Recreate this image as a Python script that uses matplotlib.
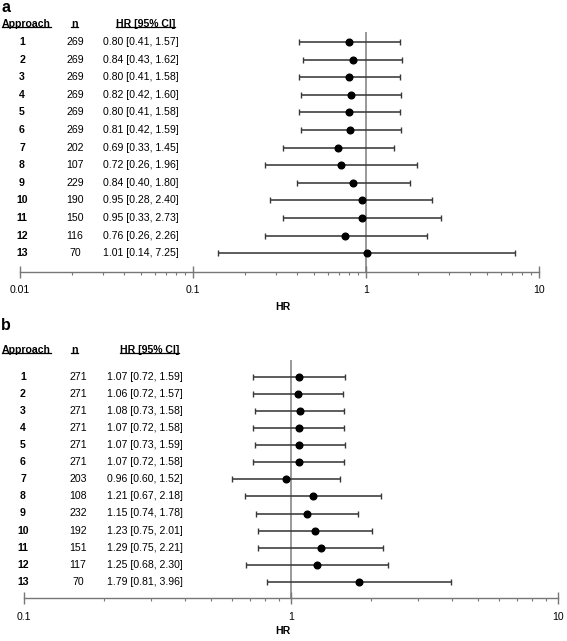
import math
import matplotlib
matplotlib.use("Agg")
import matplotlib.pyplot as plt
from matplotlib.lines import Line2D
from matplotlib.ticker import LogLocator, FixedLocator, NullFormatter

plt.rcParams['font.family'] = ['Liberation Sans', 'DejaVu Sans']

approach = list(range(1, 14))

n_a = [269, 269, 269, 269, 269, 269, 202, 107, 229, 190, 150, 116, 70]
hr_a = [0.80, 0.84, 0.80, 0.82, 0.80, 0.81, 0.69, 0.72, 0.84, 0.95, 0.95, 0.76, 1.01]
lo_a = [0.41, 0.43, 0.41, 0.42, 0.41, 0.42, 0.33, 0.26, 0.40, 0.28, 0.33, 0.26, 0.14]
hi_a = [1.57, 1.62, 1.58, 1.60, 1.58, 1.59, 1.45, 1.96, 1.80, 2.40, 2.73, 2.26, 7.25]
ticks_a = [0.01, 0.1, 1, 10]
ticklabels_a = ["0.01", "0.1", "1", "10"]

n_b = [271, 271, 271, 271, 271, 271, 203, 108, 232, 192, 151, 117, 70]
hr_b = [1.07, 1.06, 1.08, 1.07, 1.07, 1.07, 0.96, 1.21, 1.15, 1.23, 1.29, 1.25, 1.79]
lo_b = [0.72, 0.72, 0.73, 0.72, 0.73, 0.72, 0.60, 0.67, 0.74, 0.75, 0.75, 0.68, 0.81]
hi_b = [1.59, 1.57, 1.58, 1.58, 1.59, 1.58, 1.52, 2.18, 1.78, 2.01, 2.21, 2.30, 3.96]
ticks_b = [0.1, 1, 10]
ticklabels_b = ["0.1", "1", "10"]

W, H = 567, 641
fig = plt.figure(figsize=(W / 100, H / 100), dpi=100)

FS = 7.6
underlined = []


def T(x, y, s, **kw):
    kw.setdefault('fontsize', FS)
    kw.setdefault('va', 'center')
    return fig.text(x / W, 1 - y / H, s, **kw)


def panel(label, n, hr, lo, hi, ticks, tlabels, ax_left, ax_right, ax_top, ax_bot,
          row1_y, row_dy, lab_y, head_y, num_x, n_x, hr_x, tick_y, hrlab_y):
    ax = fig.add_axes([ax_left / W, 1 - ax_bot / H, (ax_right - ax_left) / W, (ax_bot - ax_top) / H])
    ax.set_xscale('log')
    ax.set_xlim(ticks[0], ticks[-1])
    ybot = 1 + (ax_bot - row1_y) / row_dy
    ytop = 1 + (ax_top - row1_y) / row_dy
    ax.set_ylim(ybot, ytop)
    ax.patch.set_alpha(0)
    for s in ['top', 'left', 'right']:
        ax.spines[s].set_visible(False)
    ax.spines['bottom'].set_color('#777777')
    ax.spines['bottom'].set_linewidth(1.0)
    ax.set_yticks([])
    ax.xaxis.set_major_locator(FixedLocator(ticks))
    ax.set_xticklabels([])
    ax.xaxis.set_minor_locator(LogLocator(base=10, subs=range(2, 10)))
    ax.xaxis.set_minor_formatter(NullFormatter())
    ax.tick_params(axis='x', which='major', direction='inout', length=8, width=1, color='#777777')
    ax.tick_params(axis='x', which='minor', direction='out', length=2.5, width=0.8, color='#777777')
    ax.axvline(1, color='#888888', lw=1.2, zorder=1)
    for i in range(len(hr)):
        y = approach[i]
        ax.errorbar(hr[i], y, xerr=[[hr[i] - lo[i]], [hi[i] - hr[i]]], fmt='o', color='black',
                    ecolor='#383838', elinewidth=1.15, capsize=2.3, capthick=1.0, ms=4.8, zorder=3)
    lg0, lg1 = math.log10(ticks[0]), math.log10(ticks[-1])
    for t, tl in zip(ticks, tlabels):
        xpx = ax_left + (ax_right - ax_left) * (math.log10(t) - lg0) / (lg1 - lg0)
        T(xpx, tick_y, tl, ha='center')
    T(283, hrlab_y, "HR", ha='center', fontweight='bold')
    T(1, lab_y, label, ha='left', fontsize=11.5, fontweight='bold')
    underlined.append(T(2, head_y, "Approach", ha='left', fontweight='bold'))
    underlined.append(T(74.5, head_y, "n", ha='center', fontweight='bold'))
    underlined.append(T(hr_x + 13, head_y, "HR [95% CI]", ha='left', fontweight='bold'))
    for i in range(len(hr)):
        ypx = row1_y + i * row_dy
        T(num_x, ypx, str(approach[i]), ha='center', fontweight='bold')
        T(n_x, ypx, str(n[i]), ha='center')
        T(hr_x, ypx, f"{hr[i]:.2f} [{lo[i]:.2f}, {hi[i]:.2f}]", ha='left')
    return ax


panel('a', n_a, hr_a, lo_a, hi_a, ticks_a, ticklabels_a, 20, 539, 32, 271.7,
      42, 17.6, 7, 24, 22, 75, 103, 290, 307)
panel('b', n_b, hr_b, lo_b, hi_b, ticks_b, ticklabels_b, 24, 558, 360, 598,
      376.7, 17.1, 326, 350, 23, 78, 107, 617, 631)

fig.canvas.draw()
r = fig.canvas.get_renderer()
inv = fig.transFigure.inverted()
for t in underlined:
    bb = t.get_window_extent(r)
    (x0, y0) = inv.transform((bb.x0, bb.y0 + 2))
    (x1, _) = inv.transform((bb.x1, bb.y0 + 2))
    fig.add_artist(Line2D([x0, x1], [y0, y0], transform=fig.transFigure, color='black', lw=0.9))

fig.savefig('out.png', dpi=100)
